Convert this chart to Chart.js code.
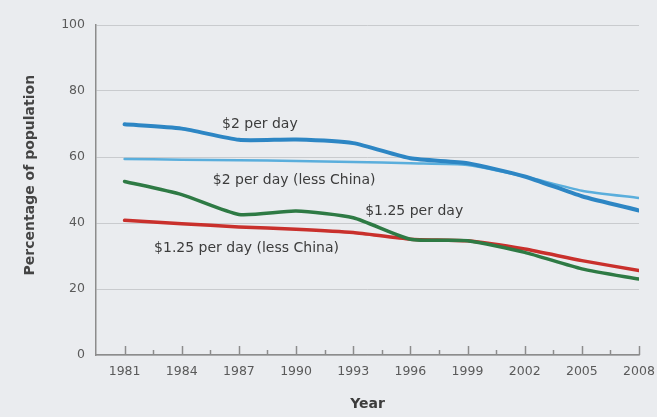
<!DOCTYPE html>
<html>
<head>
<meta charset="utf-8">
<script src="https://cdn.jsdelivr.net/npm/chart.js@4/dist/chart.umd.min.js"></script>
<style>
  body { margin: 0; background: #eaecef; }
  #wrap { width: 657px; height: 417px; }
</style>
</head>
<body>
<div id="wrap"><canvas id="povertyChart" width="657" height="417"></canvas></div>
<script>
// survey years
let years = [1981, 1984, 1987, 1990, 1993, 1996, 1999, 2002, 2005, 2008];
// percentage of population below each line
let twoDollar        = [69.9, 68.6, 65.2, 65.3, 64.2, 59.6, 58.1, 54.1, 48.1, 43.8];
let twoDollarNoChina = [59.4, 59.2, 59.0, 58.8, 58.5, 58.1, 57.6, 54.1, 49.8, 47.6];
let oneTwentyFive        = [52.6, 48.6, 42.6, 43.6, 41.6, 35.1, 34.6, 31.1, 26.1, 23.0];
let oneTwentyFiveNoChina = [40.8, 39.8, 38.8, 38.1, 37.1, 35.1, 34.6, 32.1, 28.6, 25.6];
let yTicks = [0, 20, 40, 60, 80, 100];

// minor ticks half way between the survey years
let xTicks = [];
for (let i = 0; i < years.length; i++) {
    if (i > 0) xTicks.push((years[i - 1] + years[i]) / 2);
    xTicks.push(years[i]);
}

let labels = [
    { text: '$2 per day', x: 1988.1, y: 69.8 },
    { text: '$2 per day (less China)', x: 1989.9, y: 52.9 },
    { text: '$1.25 per day', x: 1996.2, y: 43.6 },
    { text: '$1.25 per day (less China)', x: 1987.4, y: 32.3 }
];

function toPoints(vals) {
    return vals.map(function (v, i) { return { x: years[i], y: v }; });
}

let paperPlugin = {
    id: 'paper',
    beforeDraw: function (chart) {
        let ctx = chart.ctx;
        ctx.save();
        ctx.fillStyle = '#eaecef';
        ctx.fillRect(0, 0, chart.width, chart.height);
        ctx.restore();
    },
    afterDatasetsDraw: function (chart) {
        let ctx = chart.ctx;
        let xs = chart.scales.x, ys = chart.scales.y;
        ctx.save();
        // inward tick marks on the x axis
        ctx.strokeStyle = '#8c8c8c';
        ctx.lineWidth = 1.5;
        xTicks.forEach(function (v) {
            let px = Math.round(xs.getPixelForValue(v)) + 0.5;
            let len = years.indexOf(v) >= 0 ? 9 : 5;
            ctx.beginPath();
            ctx.moveTo(px, ys.bottom);
            ctx.lineTo(px, ys.bottom - len);
            ctx.stroke();
        });
        // series labels
        ctx.fillStyle = '#3c3c3c';
        ctx.font = '14px "DejaVu Sans", sans-serif';
        ctx.textAlign = 'center';
        ctx.textBaseline = 'middle';
        labels.forEach(function (l) {
            ctx.fillText(l.text, xs.getPixelForValue(l.x), ys.getPixelForValue(l.y));
        });
        // y axis title, sits a little above the middle of the axis
        ctx.fillStyle = '#444444';
        ctx.font = 'bold 14px "DejaVu Sans", sans-serif';
        ctx.translate(30, ys.getPixelForValue(54.5));
        ctx.rotate(-Math.PI / 2);
        ctx.fillText('Percentage of population', 0, 0);
        ctx.restore();
    }
};

let ctx = document.getElementById('povertyChart').getContext('2d');
let povertyChart = new Chart(ctx, {
    type: 'line',
    data: {
        datasets: [
            { label: '$2 per day', data: toPoints(twoDollar), borderColor: '#2d86c4', borderWidth: 4 },
            { label: '$2 per day (less China)', data: toPoints(twoDollarNoChina), borderColor: '#5aaedc', borderWidth: 2.5 },
            { label: '$1.25 per day', data: toPoints(oneTwentyFive), borderColor: '#2e7a44', borderWidth: 3.5 },
            { label: '$1.25 per day (less China)', data: toPoints(oneTwentyFiveNoChina), borderColor: '#c9302c', borderWidth: 3.5 }
        ]
    },
    options: {
        responsive: false,
        animation: false,
        devicePixelRatio: 1,
        elements: {
            point: { radius: 0 },
            line: { tension: 0.2, fill: false, borderCapStyle: 'round' }
        },
        layout: { padding: { top: 25, right: 18, left: 0, bottom: 0 } },
        plugins: { legend: { display: false }, tooltip: { enabled: false } },
        scales: {
            x: {
                type: 'linear',
                min: 1979.5,
                max: 2008,
                afterBuildTicks: function (scale) {
                    scale.ticks = xTicks.map(function (v) { return { value: v }; });
                },
                afterFit: function (scale) {
                    scale.height = 62;
                    scale.paddingLeft = 0;
                    scale.paddingRight = 0;
                },
                grid: { display: false, drawTicks: false },
                border: { display: true, color: '#8c8c8c', width: 1.5 },
                ticks: {
                    autoSkip: false,
                    maxRotation: 0,
                    padding: 9,
                    color: '#5a5a5a',
                    font: { family: '"DejaVu Sans", sans-serif', size: 12.5 },
                    callback: function (v) { return years.indexOf(v) >= 0 ? String(v) : ''; }
                },
                title: {
                    display: true,
                    text: 'Year',
                    color: '#3c3c3c',
                    padding: { top: 10 },
                    font: { family: '"DejaVu Sans", sans-serif', size: 14, weight: 'bold' }
                }
            },
            y: {
                min: 0,
                max: 100,
                afterBuildTicks: function (scale) {
                    scale.ticks = yTicks.map(function (v) { return { value: v }; });
                },
                afterFit: function (scale) { scale.width = 96; },
                grid: { color: '#c9cbce', lineWidth: 1, drawTicks: false },
                border: { display: true, color: '#8c8c8c', width: 1.5 },
                ticks: {
                    padding: 11,
                    color: '#5a5a5a',
                    font: { family: '"DejaVu Sans", sans-serif', size: 12.5 }
                }
            }
        }
    },
    plugins: [paperPlugin]
});
</script>
</body>
</html>
